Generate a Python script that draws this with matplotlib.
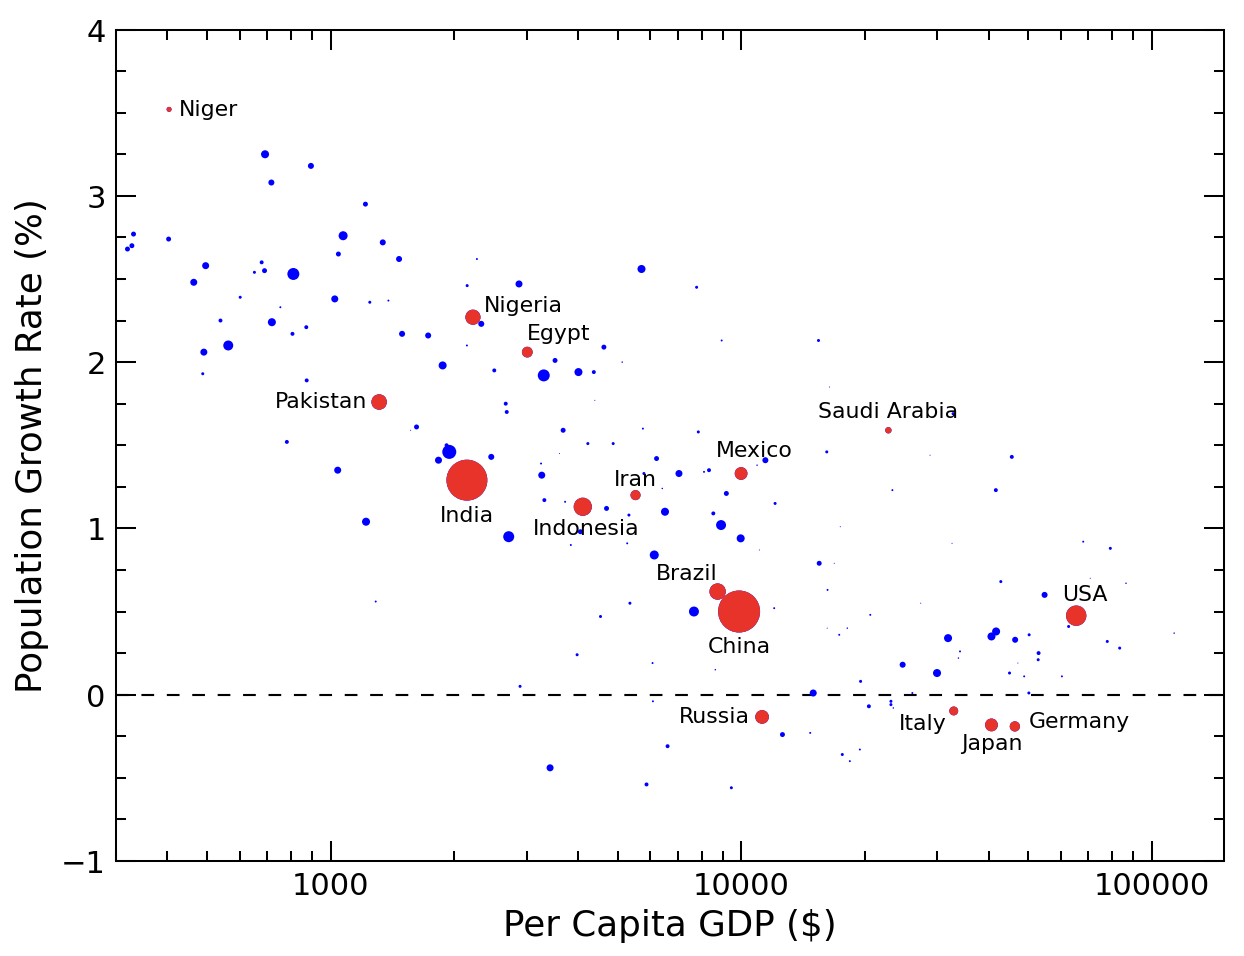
import matplotlib
matplotlib.use("Agg")
import matplotlib.pyplot as plt
from matplotlib.ticker import MultipleLocator, LogLocator, FuncFormatter, NullFormatter

# Highlighted countries: per capita GDP ($), population growth (%), population (millions)
names = ["Niger", "Pakistan", "Nigeria", "Egypt", "India", "Indonesia", "Iran",
         "Mexico", "Brazil", "China", "Saudi Arabia", "USA", "Russia", "Italy",
         "Japan", "Germany"]
named_gdp = [404, 1312, 2220, 3011, 2146, 4110, 5524, 9984, 8753, 9872,
             22800, 65360, 11230, 32890, 40640, 46340]
named_growth = [3.52, 1.76, 2.27, 2.06, 1.29, 1.13, 1.20, 1.33, 0.62, 0.50,
                1.59, 0.475, -0.134, -0.098, -0.182, -0.191]
named_pop = [19, 185, 177, 89, 1295, 255, 78, 125, 206, 1364, 31, 319, 144,
             61, 127, 81]

# All other countries
other_gdp = [692, 895, 717, 1215, 331, 403, 1072, 1339, 328, 320, 1044, 1467,
             679, 496, 652, 690, 811, 464, 602, 1023, 1245, 1382, 754, 539,
             719, 872, 807, 1492, 491, 563, 488, 874, 1618, 1565, 782, 1040,
             1219, 1287, 2270, 2149, 2874, 5712, 7780, 2326, 1727, 4626, 2146,
             3518, 5127, 8953, 15410, 1873, 2502, 3302, 4011, 4372, 4397, 2668,
             2683, 3681, 5757, 7855, 4228, 4873, 3605, 1915, 1944, 1830, 2460,
             3252, 3265, 6215, 7047, 5790, 8110, 8340, 11440, 10920, 6418, 9192,
             12080, 3313, 3722, 4695, 5323, 6516, 8544, 8923, 4055, 9961, 2713,
             3843, 5272, 11060, 6136, 15470, 7665, 5353, 4539, 12020, 3981, 6077,
             8641, 2891, 6090, 14960, 12590, 14710, 6611, 3421, 5875, 9454,
             16390, 32770, 16140, 28800, 45550, 23320, 41650, 17410, 32580,
             16830, 67990, 79140, 16210, 42830, 70700, 86420, 54740, 62640,
             27330, 20600, 16180, 18110, 17310, 31860, 40640, 41710, 46410,
             50200, 77800, 83400, 113200, 24700, 29950, 19510, 34070, 33770,
             52930, 52810, 47120, 44970, 48820, 60330, 26080, 50120, 20440,
             23130, 23130, 23440, 17610, 18370, 19430]
other_growth = [3.25, 3.18, 3.08, 2.95, 2.77, 2.74, 2.76, 2.72, 2.70, 2.68, 2.65,
                2.62, 2.60, 2.58, 2.54, 2.55, 2.53, 2.48, 2.39, 2.38, 2.36, 2.37,
                2.33, 2.25, 2.24, 2.21, 2.17, 2.17, 2.06, 2.10, 1.93, 1.89, 1.61,
                1.59, 1.52, 1.35, 1.04, 0.56, 2.62, 2.46, 2.47, 2.56, 2.45, 2.23,
                2.16, 2.09, 2.10, 2.01, 2.00, 2.13, 2.13, 1.98, 1.95, 1.92, 1.94,
                1.94, 1.77, 1.75, 1.70, 1.59, 1.60, 1.58, 1.51, 1.51, 1.45, 1.50,
                1.46, 1.41, 1.43, 1.39, 1.32, 1.42, 1.33, 1.33, 1.34, 1.35, 1.41,
                1.38, 1.24, 1.21, 1.15, 1.17, 1.16, 1.12, 1.08, 1.10, 1.09, 1.02,
                0.98, 0.94, 0.95, 0.90, 0.91, 0.87, 0.84, 0.79, 0.50, 0.55, 0.47,
                0.52, 0.24, 0.19, 0.15, 0.05, -0.04, 0.01, -0.24, -0.23, -0.31,
                -0.44, -0.54, -0.56, 1.85, 1.69, 1.46, 1.44, 1.43, 1.23, 1.23,
                1.01, 0.91, 0.79, 0.92, 0.88, 0.63, 0.68, 0.70, 0.67, 0.60, 0.41,
                0.55, 0.48, 0.40, 0.40, 0.36, 0.34, 0.35, 0.38, 0.33, 0.36, 0.32,
                0.28, 0.37, 0.18, 0.13, 0.08, 0.26, 0.22, 0.25, 0.21, 0.19, 0.13,
                0.11, 0.11, 0.01, 0.01, -0.07, -0.04, -0.06, -0.08, -0.36, -0.40,
                -0.33]
other_pop = [50, 28, 28, 19, 19, 19, 63, 28, 19, 19, 19, 28, 12, 38, 7, 19, 111,
             38, 7, 38, 7, 3, 3, 12, 50, 12, 12, 28, 38, 77, 7, 12, 19, 0.8, 12,
             38, 50, 3, 3, 7, 38, 50, 7, 28, 28, 19, 3, 19, 1.7, 3, 7, 50, 12,
             111, 50, 12, 0.8, 12, 12, 19, 3, 7, 7, 7, 0.8, 12, 152, 38, 28, 3,
             38, 19, 38, 7, 3, 12, 28, 1.7, 1.7, 19, 7, 12, 3, 19, 7, 50, 12,
             77, 19, 50, 94, 3, 3, 0.8, 63, 19, 77, 7, 7, 3, 7, 3, 1.7, 7, 3,
             38, 19, 3, 12, 38, 12, 7, 0.8, 7, 7, 0.8, 12, 3, 12, 0.8, 0.8, 0.8,
             3, 7, 3, 7, 0.8, 1.7, 28, 7, 0.8, 3, 0.8, 1.7, 3, 50, 50, 50, 28,
             7, 7, 7, 1.7, 28, 50, 7, 3, 1.7, 12, 7, 0.8, 7, 3, 3, 3, 7, 12, 7,
             7, 1.7, 7, 3, 3]

blue = "#0000ff"
red = "#e8332a"
k = 0.45  # marker area (pt^2) per million people

fig = plt.figure(figsize=(10.2, 7.84), dpi=122)
ax = fig.add_axes([0.0932, 0.0994, 0.8907, 0.8692])

ax.scatter(other_gdp + named_gdp, other_growth + named_growth,
           s=[p * k for p in other_pop + named_pop], c=blue, linewidths=0,
           zorder=3)
ax.scatter(named_gdp, named_growth, s=[p * k for p in named_pop], c=red,
           linewidths=0, zorder=4)

ax.axhline(0, color="black", lw=1.25, dashes=(6, 6), zorder=2)

# Labels: (dx, dy) offsets in points, horizontal alignment
label_pos = {
    "Niger": (6, 0, "left"),
    "Pakistan": (-7, 0, "right"),
    "Nigeria": (6.5, 7, "left"),
    "Egypt": (0, 11, "left"),
    "India": (0, -21, "center"),
    "Indonesia": (2, -13, "center"),
    "Iran": (0, 9, "center"),
    "Mexico": (8, 13.5, "center"),
    "Brazil": (0, 10.6, "right"),
    "China": (0, -20.5, "center"),
    "Saudi Arabia": (0, 11, "center"),
    "USA": (5.3, 12.4, "center"),
    "Russia": (-7, 0.5, "right"),
    "Italy": (-4, -7.7, "right"),
    "Japan": (0, -11, "center"),
    "Germany": (8.3, 3, "left"),
}
for name, gx, gy in zip(names, named_gdp, named_growth):
    dx, dy, ha = label_pos[name]
    ax.annotate(name, (gx, gy), xytext=(dx, dy), textcoords="offset points",
                ha=ha, va="center", fontsize=13, zorder=5)

ax.set_xscale("log")
ax.set_xlim(300, 150000)
ax.set_ylim(-1, 4)
ax.yaxis.set_major_locator(MultipleLocator(1))
ax.yaxis.set_minor_locator(MultipleLocator(0.25))
ax.xaxis.set_major_locator(LogLocator(base=10))
ax.xaxis.set_minor_locator(LogLocator(base=10, subs=range(2, 10)))
ax.xaxis.set_major_formatter(FuncFormatter(lambda v, p: "%d" % round(v)))
ax.xaxis.set_minor_formatter(NullFormatter())

ax.tick_params(which="both", direction="in", top=True, right=True, width=1.2)
ax.tick_params(which="major", length=12, labelsize=18, pad=6)
ax.tick_params(which="minor", length=6)
for sp in ax.spines.values():
    sp.set_linewidth(1.2)

ax.set_xlabel("Per Capita GDP ($)", fontsize=21, labelpad=5)
ax.set_ylabel("Population Growth Rate (%)", fontsize=21, labelpad=7)

fig.savefig("out.png", dpi=122)
